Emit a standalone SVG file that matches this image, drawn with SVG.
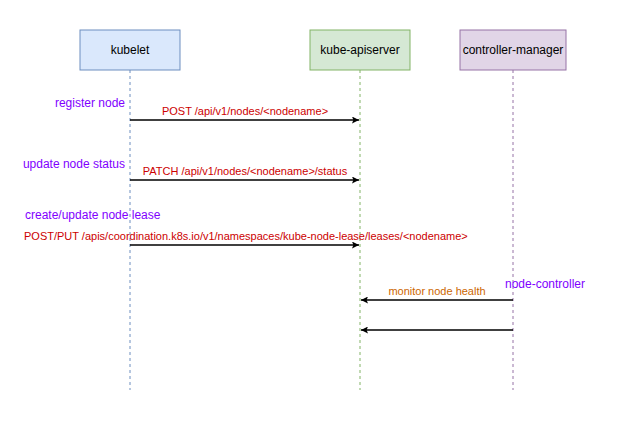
<svg xmlns="http://www.w3.org/2000/svg" width="640" height="430" viewBox="0 0 640 430">
<defs>
<style>
.box{stroke-width:1}
.bt{font-family:"Liberation Sans",Arial,sans-serif;font-size:12px;fill:#000;text-anchor:middle}
.life{fill:none;stroke-width:1;stroke-dasharray:3 3}
.msg{stroke:#000;stroke-width:1.5;fill:none}
.lbl{font-family:"Liberation Sans",Arial,sans-serif;font-size:11px}
.p{fill:#7F00FF;font-size:12px}
.r{fill:#CC0000}
.o{fill:#CC6600}
</style>
<marker id="ah" viewBox="0 0 10 10" refX="10" refY="5" markerWidth="7" markerHeight="7" markerUnits="userSpaceOnUse" orient="auto"><path d="M0,0 L10,5 L0,10 L2,5 z" fill="#000"/></marker>
</defs>
<rect width="640" height="430" fill="#fff"/>
<g id="kubelet">
<rect class="box" x="80" y="30" width="100" height="40" fill="#dae8fc" stroke="#6c8ebf"/>
<text class="bt" x="130" y="54">kubelet</text>
<line class="life" x1="130" y1="70" x2="130" y2="390" stroke="#6c8ebf"/>
</g>
<g id="kube-apiserver">
<rect class="box" x="310" y="30" width="100" height="40" fill="#d5e8d4" stroke="#82b366"/>
<text class="bt" x="360" y="54">kube-apiserver</text>
<line class="life" x1="360" y1="70" x2="360" y2="390" stroke="#82b366"/>
</g>
<g id="controller-manager">
<rect class="box" x="460" y="30" width="106" height="40" fill="#e1d5e7" stroke="#9673a6"/>
<text class="bt" x="513" y="54">controller-manager</text>
<line class="life" x1="513" y1="70" x2="513" y2="390" stroke="#9673a6"/>
</g>
<g id="connectors">
<line class="msg" x1="130" y1="120" x2="359" y2="120" marker-end="url(#ah)"/>
<line class="msg" x1="130" y1="180" x2="359" y2="180" marker-end="url(#ah)"/>
<line class="msg" x1="130" y1="245" x2="359" y2="245" marker-end="url(#ah)" stroke="#555"/>
<line class="msg" x1="513" y1="300" x2="361" y2="300" marker-end="url(#ah)"/>
<line class="msg" x1="513" y1="330" x2="361" y2="330" marker-end="url(#ah)"/>
</g>
<g id="labels">
<text class="lbl p" x="125" y="107" text-anchor="end">register node</text>
<text class="lbl r" x="245" y="115" text-anchor="middle">POST /api/v1/nodes/&lt;nodename&gt;</text>
<text class="lbl p" x="125" y="168" text-anchor="end">update node status</text>
<text class="lbl r" x="245" y="175" text-anchor="middle">PATCH /api/v1/nodes/&lt;nodename&gt;/status</text>
<text class="lbl p" x="25" y="219">create/update node lease</text>
<text class="lbl r" x="24" y="240">POST/PUT /apis/coordination.k8s.io/v1/namespaces/kube-node-lease/leases/&lt;nodename&gt;</text>
<text class="lbl o" x="437" y="295" text-anchor="middle">monitor node health</text>
<text class="lbl p" x="545" y="288" text-anchor="middle">node-controller</text>
</g>
</svg>
